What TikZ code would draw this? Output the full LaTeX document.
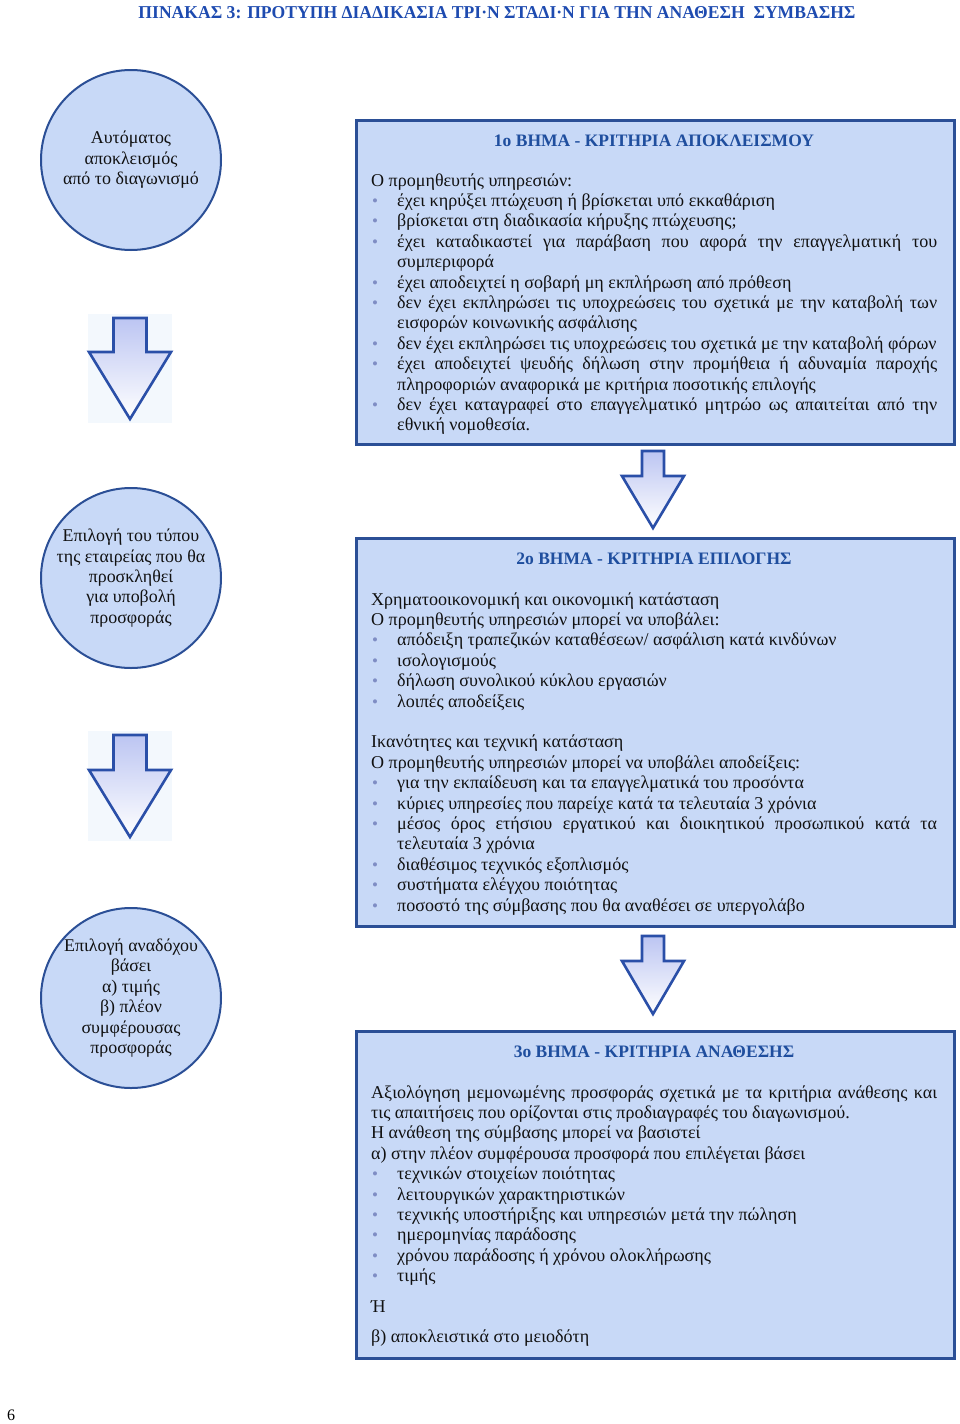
\documentclass[tikz,border=0pt]{standalone}
\usepackage{fontspec}
\setmainfont{Liberation Serif}
\usepackage{graphicx}
\definecolor{boxfill}{HTML}{C8D9F7}
\definecolor{boxline}{HTML}{2B4F96}
\definecolor{headblue}{HTML}{1F4E9E}
\definecolor{titleblue}{HTML}{1E4BB0}
\definecolor{bulc}{HTML}{7F8DC4}
\definecolor{arrtop}{HTML}{BCC5F2}
\definecolor{arrline}{HTML}{2A4FA8}
\definecolor{glow}{HTML}{F3F8FD}
\definecolor{txt}{HTML}{111111}
\newcommand\Bu{\makebox[26pt][l]{\hspace{1pt}\textcolor{bulc}{\fontsize{17}{17}\selectfont\textbullet}}}
\newcommand\Jl[1]{\makebox[540pt][s]{#1}}
\newcommand\Jw[1]{\makebox[566pt][s]{#1}}
\newcommand\Ind{\hspace*{26pt}}
\newcommand\dnarrow[6]{%
  \draw[arrowsty, top color=arrtop, bottom color=white]
    (#1-#3,#2) -- (#1+#3,#2) -- (#1+#3,#4) -- (#1+#5,#4) -- (#1,#6)
    -- (#1-#5,#4) -- (#1-#3,#4) -- cycle;}
\tikzset{
  circ/.style={circle, draw=boxline, line width=2pt, fill=boxfill,
    minimum size=180pt, inner sep=0pt, align=center, text=txt,
    font=\fontsize{17.9}{20.4}\selectfont},
  stagebox/.style={rectangle, draw=boxline, line width=2.5pt, fill=boxfill,
    anchor=north west, minimum width=598pt, inner sep=0pt},
  head/.style={anchor=base, inner sep=0pt, text=headblue,
    font=\fontsize{17.5}{20}\selectfont\bfseries},
  body/.style={anchor=base west, inner sep=0pt, text=txt,
    font=\fontsize{18.05}{20.4}\selectfont},
  arrowsty/.style={draw=arrline, line width=2.6pt, line join=miter}
}
\newcommand\bodytext[1]{\parbox[t]{566pt}{\lineskiplimit=-100pt\parindent=0pt\raggedright #1}}
\begin{document}
\begin{tikzpicture}[x=1pt,y=-1pt]
\useasboundingbox (0,0) rectangle (960,1424);
\fill[white] (0,0) rectangle (960,1424);

% title
\node[inner sep=0pt, anchor=base] (title) at (497,19)
  {\resizebox{717pt}{12pt}{\bfseries\color{titleblue}ΠΙΝΑΚΑΣ 3: ΠΡΟΤΥΠΗ ΔΙΑΔΙΚΑΣΙΑ ΤΡΙ·Ν ΣΤΑΔΙ·Ν ΓΙΑ ΤΗΝ ΑΝΑΘΕΣΗ\ \ ΣΥΜΒΑΣΗΣ}};

% circles
\node[circ] (c1) at (131,160) {Αυτόματος\\αποκλεισμός\\από το διαγωνισμό};
\node[circ] (c2) at (131,578) {Επιλογή του τύπου\\της εταιρείας που θα\\προσκληθεί\\για υποβολή\\προσφοράς};
\node[circ] (c3) at (131,998) {Επιλογή αναδόχου\\βάσει\\α) τιμής\\β) πλέον\\συμφέρουσας\\προσφοράς};

% left arrows
\fill[glow] (88,314) rectangle (172,423);
\fill[glow] (88,731) rectangle (172,841);
\dnarrow{130}{318}{16.5}{352}{41}{419}
\dnarrow{130}{735}{16.5}{770}{41}{837}

% middle arrows
\dnarrow{653}{451}{11}{476}{31}{528}
\dnarrow{653}{936}{11}{961}{31}{1014}

% box 1
\node[stagebox, minimum height=324pt] (b1) at (355,119) {};
\node[head] (h1) at (654,146.5) {1ο ΒΗΜΑ - ΚΡΙΤΗΡΙΑ ΑΠΟΚΛΕΙΣΜΟΥ};
\node[body] (t1) at (371,186) {\bodytext{%
Ο προμηθευτής υπηρεσιών:\\
\Bu έχει κηρύξει πτώχευση ή βρίσκεται υπό εκκαθάριση\\
\Bu βρίσκεται στη διαδικασία κήρυξης πτώχευσης;\\
\Bu\Jl{έχει καταδικαστεί για παράβαση που αφορά την επαγγελματική του}\\
\Ind συμπεριφορά\\
\Bu έχει αποδειχτεί η σοβαρή μη εκπλήρωση από πρόθεση\\
\Bu\Jl{δεν έχει εκπληρώσει τις υποχρεώσεις του σχετικά με την καταβολή των}\\
\Ind εισφορών κοινωνικής ασφάλισης\\
\Bu δεν έχει εκπληρώσει τις υποχρεώσεις του σχετικά με την καταβολή φόρων\\
\Bu\Jl{έχει αποδειχτεί ψευδής δήλωση στην προμήθεια ή αδυναμία παροχής}\\
\Ind πληροφοριών αναφορικά με κριτήρια ποσοτικής επιλογής\\
\Bu\Jl{δεν έχει καταγραφεί στο επαγγελματικό μητρώο ως απαιτείται από την}\\
\Ind εθνική νομοθεσία.}};

% box 2
\node[stagebox, minimum height=388pt] (b2) at (355,537) {};
\node[head] (h2) at (654,564.5) {2ο ΒΗΜΑ - ΚΡΙΤΗΡΙΑ ΕΠΙΛΟΓΗΣ};
\node[body] (t2) at (371,605) {\bodytext{%
Χρηματοοικονομική και οικονομική κατάσταση\\
Ο προμηθευτής υπηρεσιών μπορεί να υποβάλει:\\
\Bu απόδειξη τραπεζικών καταθέσεων/ ασφάλιση κατά κινδύνων\\
\Bu ισολογισμούς\\
\Bu δήλωση συνολικού κύκλου εργασιών\\
\Bu λοιπές αποδείξεις\\
\mbox{}\\
Ικανότητες και τεχνική κατάσταση\\
Ο προμηθευτής υπηρεσιών μπορεί να υποβάλει αποδείξεις:\\
\Bu για την εκπαίδευση και τα επαγγελματικά του προσόντα\\
\Bu κύριες υπηρεσίες που παρείχε κατά τα τελευταία 3 χρόνια\\
\Bu\Jl{μέσος όρος ετήσιου εργατικού και διοικητικού προσωπικού κατά τα}\\
\Ind τελευταία 3 χρόνια\\
\Bu διαθέσιμος τεχνικός εξοπλισμός\\
\Bu συστήματα ελέγχου ποιότητας\\
\Bu ποσοστό της σύμβασης που θα αναθέσει σε υπεργολάβο}};

% box 3
\node[stagebox, minimum height=327pt] (b3) at (355,1030) {};
\node[head] (h3) at (654,1057.5) {3ο ΒΗΜΑ - ΚΡΙΤΗΡΙΑ ΑΝΑΘΕΣΗΣ};
\node[body] (t3) at (371,1098) {\bodytext{%
\Jw{Αξιολόγηση μεμονωμένης προσφοράς σχετικά με τα κριτήρια ανάθεσης και}\\
τις απαιτήσεις που ορίζονται στις προδιαγραφές του διαγωνισμού.\\
Η ανάθεση της σύμβασης μπορεί να βασιστεί\\
α) στην πλέον συμφέρουσα προσφορά που επιλέγεται βάσει\\
\Bu τεχνικών στοιχείων ποιότητας\\
\Bu λειτουργικών χαρακτηριστικών\\
\Bu τεχνικής υποστήριξης και υπηρεσιών μετά την πώληση\\
\Bu ημερομηνίας παράδοσης\\
\Bu χρόνου παράδοσης ή χρόνου ολοκλήρωσης\\
\Bu τιμής\\[10.5pt]
Ή\\[10pt]
β) αποκλειστικά στο μειοδότη}};

% page number
\node[anchor=base west, inner sep=0pt, font=\fontsize{16}{18}\selectfont] (pg) at (7,1420) {6};
\end{tikzpicture}
\end{document}
